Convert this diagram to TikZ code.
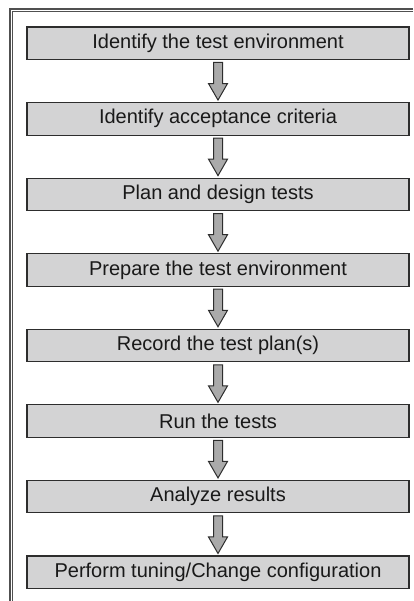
\documentclass[tikz,border=0pt]{standalone}
\usepackage{fontspec}
\setmainfont{Liberation Sans}
\usetikzlibrary{calc}
\definecolor{boxfill}{RGB}{211,211,212}
\definecolor{boxline}{RGB}{45,45,45}
\definecolor{arrowfill}{RGB}{170,170,170}
\definecolor{framecol}{RGB}{80,80,80}
\definecolor{txtcol}{RGB}{25,25,25}
\tikzset{
  stepbox/.style={draw=boxline, line width=1.1pt, fill=boxfill, rectangle,
    minimum width=382pt, minimum height=32.5pt, inner sep=0pt, outer sep=0pt,
    text=txtcol, font=\fontsize{20}{24}\selectfont},
  flowarrow/.style={draw=boxline, line width=1pt, fill=arrowfill, line join=miter},
  frameouter/.style={draw=framecol, line width=2.4pt},
  frameinner/.style={draw=framecol, line width=1pt}
}
\begin{document}
\begin{tikzpicture}[x=1pt,y=-1pt]
\useasboundingbox (0,0) rectangle (413,601);
% frame (top and left, double line)
\coordinate (fo1) at (413,9.3);
\coordinate (fo2) at (9.7,9.3);
\coordinate (fo3) at (9.7,601);
\coordinate (fi1) at (413,12);
\coordinate (fi2) at (12.7,12);
\coordinate (fi3) at (12.7,601);
\draw[frameouter] (fo1) -- (fo2) -- (fo3);
\draw[frameinner] (fi1) -- (fi2) -- (fi3);
% boxes
\node[stepbox] (b1) at (218,43.25) {Identify the test environment};
\node[stepbox] (b2) at (218,118.82) {Identify acceptance criteria};
\node[stepbox] (b3) at (218,194.39) {Plan and design tests};
\node[stepbox] (b4) at (218,269.96) {Prepare the test environment};
\node[stepbox] (b5) at (218,345.53) {Record the test plan(s)};
\node[stepbox] (b6) at (218,421.10) {Run the tests};
\node[stepbox] (b7) at (218,496.67) {Analyze results};
\node[stepbox] (b8) at (218,572.24) {Perform tuning/Change configuration};
% arrows
\foreach \i [evaluate=\i as \j using int(\i+1)] in {1,...,7} {
  \draw[flowarrow]
    ($(b\i.south)+(-4.5,3)$) -- ($(b\i.south)+(4.5,3)$)
    -- ($(b\j.north)+(4.5,-19)$) -- ($(b\j.north)+(9.5,-19)$)
    -- ($(b\j.north)+(0,-2.5)$)
    -- ($(b\j.north)+(-9.5,-19)$) -- ($(b\j.north)+(-4.5,-19)$) -- cycle;
}
\end{tikzpicture}
\end{document}
